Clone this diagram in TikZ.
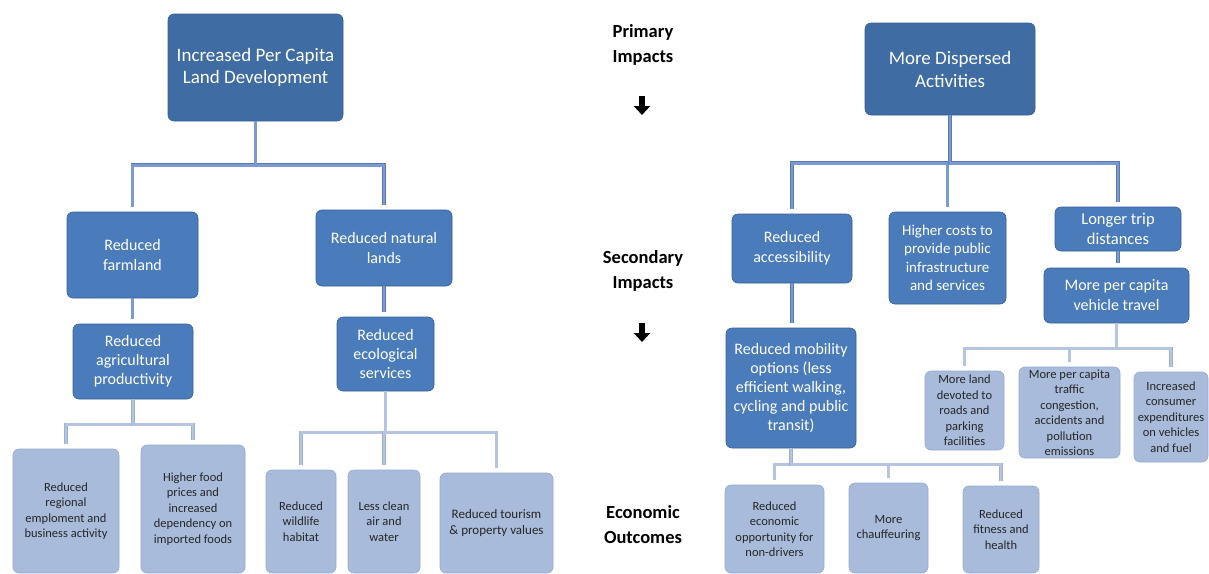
\documentclass[tikz,border=0pt]{standalone}
\usepackage{fontspec}
\setmainfont{Carlito}
\usetikzlibrary{arrows.meta}

\definecolor{TopBlue}{HTML}{3F6CA3}
\definecolor{MidBlue}{HTML}{4A7BBA}
\definecolor{BoxEdge}{HTML}{35609A}
\definecolor{PaleBlue}{HTML}{A8BBDB}
\definecolor{PaleEdge}{HTML}{95AAD0}
\definecolor{LinkBlue}{HTML}{7B9AD2}
\definecolor{LinkEdge}{HTML}{5A7AB2}
\definecolor{SubLink}{HTML}{B4C4E1}
\definecolor{SubEdge}{HTML}{9CB0D4}

\newcommand{\boxfont}[2]{\fontsize{#1}{#2}\selectfont}

\tikzstyle{every node} = [align=center, inner sep=0pt, rounded corners=6pt]
\tikzstyle{topbox} = [fill=TopBlue, draw=BoxEdge, line width=0.6pt, text=white]
\tikzstyle{midbox} = [fill=MidBlue, draw=BoxEdge, line width=0.6pt, text=white]
\tikzstyle{palebox} = [fill=PaleBlue, draw=PaleEdge, line width=0.6pt, text=black!85, font={\boxfont{12.5}{15.5}}]
\tikzstyle{level} = [font={\bfseries\boxfont{18.5}{25}}, text=black]
\tikzstyle{link} = [draw=LinkEdge, line width=0.5pt, double=LinkBlue, double distance=2.8pt, shorten >=5pt]
\tikzstyle{sublink} = [draw=SubEdge, line width=0.5pt, double=SubLink, double distance=2.6pt, shorten >=5pt]
\tikzstyle{downarr} = [-{Triangle[width=16pt,length=9pt]}, line width=6pt, black]

\begin{document}
\begin{tikzpicture}[x=1pt,y=-1pt]
    \useasboundingbox[fill=white] (0,0) rectangle (1209,573);

    % Level labels
    \node[level] (primary) at (643,45) {Primary\\Impacts};
    \node[level] (secondary) at (643,271) {Secondary\\Impacts};
    \node[level] (outcomes) at (643,525) {Economic\\Outcomes};
    \coordinate (arr1) at (642,96);
    \coordinate (arr2) at (642,323);
    \draw[downarr] (arr1) -- ++(0,19);
    \draw[downarr] (arr2) -- ++(0,19);

    % Land development tree
    \node[topbox, minimum width=175, minimum height=107, font={\boxfont{19}{22}}] (ipc) at (255.5,67.5) {Increased Per Capita\\Land Development};
    \node[midbox, minimum width=131, minimum height=86, font={\boxfont{16}{20}}] (farm) at (132.5,255) {Reduced\\farmland};
    \node[midbox, minimum width=136, minimum height=76, font={\boxfont{16}{20}}] (nat) at (384,248) {Reduced natural\\lands};
    \node[midbox, minimum width=120, minimum height=75, font={\boxfont{16}{19}}] (agr) at (133,361.5) {Reduced\\agricultural\\productivity};
    \node[midbox, minimum width=97, minimum height=74, font={\boxfont{16}{19}}] (eco) at (385.5,354) {Reduced\\ecological\\services};
    \node[palebox, minimum width=106, minimum height=124] (emp) at (66,511) {Reduced\\regional\\emploment and\\business activity};
    \node[palebox, minimum width=104, minimum height=128] (food) at (193,509) {Higher food\\prices and\\increased\\dependency on\\imported foods};
    \node[palebox, minimum width=70, minimum height=103] (wild) at (301,521.5) {Reduced\\wildlife\\habitat};
    \node[palebox, minimum width=72, minimum height=103] (air) at (384,521.5) {Less clean\\air and\\water};
    \node[palebox, minimum width=113, minimum height=100, font={\boxfont{13}{15.5}}] (tour) at (496.5,523) {Reduced tourism\\\& property values};

    \draw[link] (ipc.south) -- ++(0,44) -| (farm.north);
    \draw[link] (ipc.south) -- ++(0,44) -| (nat.north);
    \draw[link] (farm.south) -- (farm.south |- agr.north);
    \draw[link] (nat.south) -- (nat.south |- eco.north);
    \foreach \n in {emp, food} {
        \draw[sublink] (agr.south) -- ++(0,25) -| (\n.north);
    }
    \foreach \n in {wild, air, tour} {
        \draw[sublink] (eco.south) -- ++(0,41) -| (\n.north);
    }

    % Dispersed activities tree
    \node[topbox, minimum width=170, minimum height=92, font={\boxfont{19}{23}}] (mda) at (950,69) {More Dispersed\\Activities};
    \node[midbox, minimum width=120, minimum height=69, font={\boxfont{16}{20}}] (acc) at (792,248.5) {Reduced\\accessibility};
    \node[midbox, minimum width=117, minimum height=92, font={\boxfont{15}{18.5}}] (cost) at (947.5,258) {Higher costs to\\provide public\\infrastructure\\and services};
    \node[midbox, minimum width=126, minimum height=44, font={\boxfont{16.5}{20}}] (trip) at (1118,229) {Longer trip\\distances};
    \node[midbox, minimum width=145, minimum height=55, font={\boxfont{16}{20}}] (veh) at (1116.5,295.5) {More per capita\\vehicle travel};
    \node[midbox, minimum width=130, minimum height=120, font={\boxfont{16}{19}}] (mob) at (791,388) {Reduced mobility\\options (less\\efficient walking,\\cycling and public\\transit)};
    \node[palebox, minimum width=99, minimum height=88] (econ) at (774.5,529) {Reduced\\economic\\opportunity for\\non-drivers};
    \node[palebox, minimum width=79, minimum height=90] (chauf) at (888.5,528) {More\\chauffeuring};
    \node[palebox, minimum width=76, minimum height=87] (fit) at (1001,529.5) {Reduced\\fitness and\\health};
    \node[palebox, minimum width=79, minimum height=79] (land) at (964.5,410.5) {More land\\devoted to\\roads and\\parking\\facilities};
    \node[palebox, minimum width=101, minimum height=91] (cong) at (1069.5,412.5) {More per capita\\traffic\\congestion,\\accidents and\\pollution\\emissions};
    \node[palebox, minimum width=74, minimum height=90] (exp) at (1171,417) {Increased\\consumer\\expenditures\\on vehicles\\and fuel};

    \foreach \n in {acc, cost, trip} {
        \draw[link] (mda.south) -- ++(0,48) -| (\n.north);
    }
    \draw[link] (trip.south) -- (trip.south |- veh.north);
    \draw[link] (acc.south) -- (acc.south |- mob.north);
    \foreach \n in {econ, chauf, fit} {
        \draw[sublink] (mob.south) -- ++(0,16) -| (\n.north);
    }
    \foreach \n in {land, cong, exp} {
        \draw[sublink] (veh.south) -- ++(0,25) -| (\n.north);
    }
\end{tikzpicture}
\end{document}
